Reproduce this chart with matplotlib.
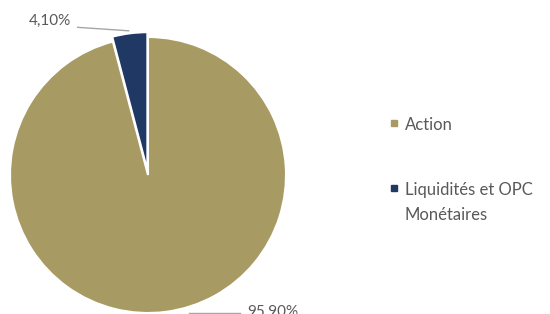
import matplotlib
matplotlib.use("Agg")
import matplotlib.pyplot as plt
from matplotlib.patches import Rectangle

# --- data ---
labels = ["Action", "Liquidités et OPC\nMonétaires"]
values = [95.90, 4.10]
colors = ["#A89A63", "#1F3864"]
pct_labels = [f"{v:.2f}%".replace(".", ",") for v in values]

plt.rcParams["font.family"] = ["Lato", "DejaVu Sans"]
TEXT = "#595959"

W, H = 550, 314
fig = plt.figure(figsize=(W / 100, H / 100), dpi=100)

# pie placed in pixel coordinates: centre (148, 175), radius 138
cx, cy, r = 148, 175, 138
ax = fig.add_axes([(cx - r) / W, (H - cy - r) / H, 2 * r / W, 2 * r / H])
ax.pie(values, colors=colors, startangle=90, counterclock=False,
       explode=[0, 0.035], radius=1,
       wedgeprops=dict(edgecolor="white", linewidth=1.5))
ax.set_xlim(-1, 1)
ax.set_ylim(-1, 1)
ax.set_aspect("auto")
ax.axis("off")

# data labels with leader lines
ax.plot([-0.51, -0.14], [1.07, 1.045], color="#A6A6A6", lw=1, clip_on=False)
ax.text(-0.71, 1.12, pct_labels[1], ha="center", va="center",
        fontsize=11, color=TEXT)
ax.plot([0.30, 0.67], [-1.0, -1.0], color="#A6A6A6", lw=1, clip_on=False)
ax.text(0.905, -0.995, pct_labels[0], ha="center", va="center",
        fontsize=11, color=TEXT)

# legend (drawn in figure pixel coords)
legend_y = [123, 188]
for lab, col, y in zip(labels, colors, legend_y):
    fig.patches.append(Rectangle((391 / W, (H - y - 3) / H), 6 / W, 6 / H,
                                 transform=fig.transFigure, color=col))
    first = lab.split("\n")[0]
    fig.text(405 / W, (H - y) / H, first, ha="left", va="center_baseline",
             fontsize=12, color=TEXT)
    for k, extra in enumerate(lab.split("\n")[1:], start=1):
        fig.text(405 / W, (H - y - 26 * k) / H, extra, ha="left",
                 va="center_baseline", fontsize=12, color=TEXT)

fig.savefig("out.png", dpi=100)
